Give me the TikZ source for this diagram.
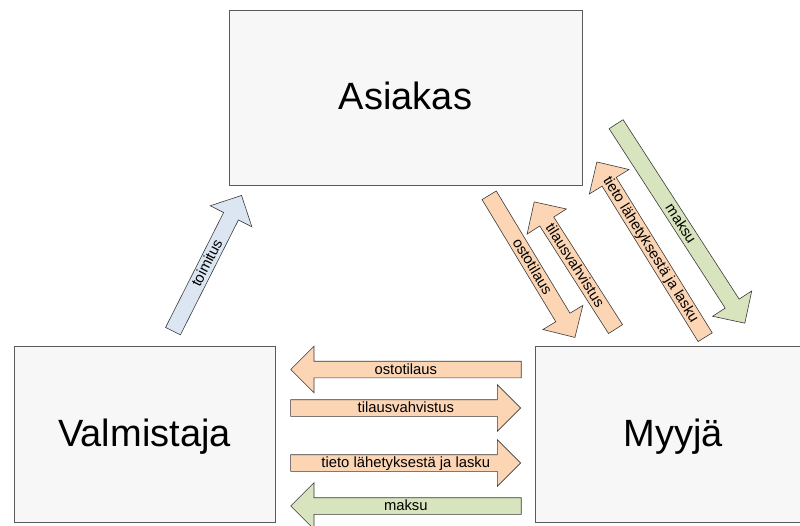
\documentclass[tikz,border=0pt]{standalone}
\usepackage{fontspec}
\setmainfont{Liberation Sans}
\usetikzlibrary{shapes.arrows}
\definecolor{boxfill}{HTML}{F7F7F7}
\definecolor{boxline}{HTML}{5A5A5A}
\definecolor{arrowline}{HTML}{3A3A3A}
\definecolor{peach}{HTML}{FCD5B5}
\definecolor{sage}{HTML}{D7E4BD}
\definecolor{skyblue}{HTML}{DCE6F2}
% labels centred on the whole arrow, head included
\newcommand{\fwdlabel}[1]{\hspace*{8.6pt}#1}
\newcommand{\backlabel}[1]{#1\hspace*{8.6pt}}
\begin{document}
\begin{tikzpicture}[x=1pt,y=-1pt,
  party/.style={rectangle, draw=boxline, fill=boxfill, line width=1pt,
    inner sep=0pt, text height=27.5pt, text depth=4pt,
    font=\fontsize{38}{38}\selectfont},
  flow/.style={single arrow, draw=arrowline, line width=0.6pt,
    inner xsep=1pt, inner ysep=0pt, text height=12.5pt, text depth=3.5pt,
    single arrow head extend=15pt, single arrow tip angle=90,
    font=\fontsize{14.8}{14.8}\selectfont},
  back/.style={shape border rotate=180}]
\useasboundingbox (0,0) rectangle (800,526);
\clip (0,0) rectangle (800,526);

% the three parties
\node[party, minimum width=353pt, minimum height=174.6pt] (asiakas) at (405.5,98) {Asiakas};
\node[party, minimum width=261pt, minimum height=175pt] (valmistaja) at (144.5,434.5) {Valmistaja};
\node[party, minimum width=277pt, minimum height=175pt] (myyja) at (673.5,434.5) {Myyjä};

% delivery from the manufacturer to the customer
\node[flow, fill=skyblue, rotate=63.2, minimum height=152pt] (toimitus) at (205.4,267.0) {\fwdlabel{toimitus}};

% customer <-> seller
\node[flow, fill=peach, rotate=-58.9, minimum height=166pt] (ostoA) at (529.9,262.8) {\fwdlabel{ostotilaus}};
\node[flow, back, fill=peach, rotate=-57.4, minimum height=151pt] (vahvA) at (577.1,269.0) {\backlabel{tilausvahvistus}};
\node[flow, back, fill=peach, rotate=-58.3, minimum height=206pt] (tietoA) at (653.2,253.1) {\backlabel{tieto lähetyksestä ja lasku}};
\node[flow, fill=sage, rotate=-57.1, minimum height=237pt] (maksuA) at (678.2,220.2) {\fwdlabel{maksu}};

% seller <-> manufacturer
\node[flow, back, fill=peach, minimum height=230.5pt] (ostoV) at (410.1,369.5) {\backlabel{ostotilaus}};
\node[flow, fill=peach, minimum height=230pt] (vahvV) at (401.5,408) {\fwdlabel{tilausvahvistus}};
\node[flow, fill=peach, minimum height=230pt] (tietoV) at (401.5,463) {\fwdlabel{tieto lähetyksestä ja lasku}};
\node[flow, back, fill=sage, minimum height=230.5pt] (maksuV) at (410.1,506) {\backlabel{maksu}};
\end{tikzpicture}
\end{document}
